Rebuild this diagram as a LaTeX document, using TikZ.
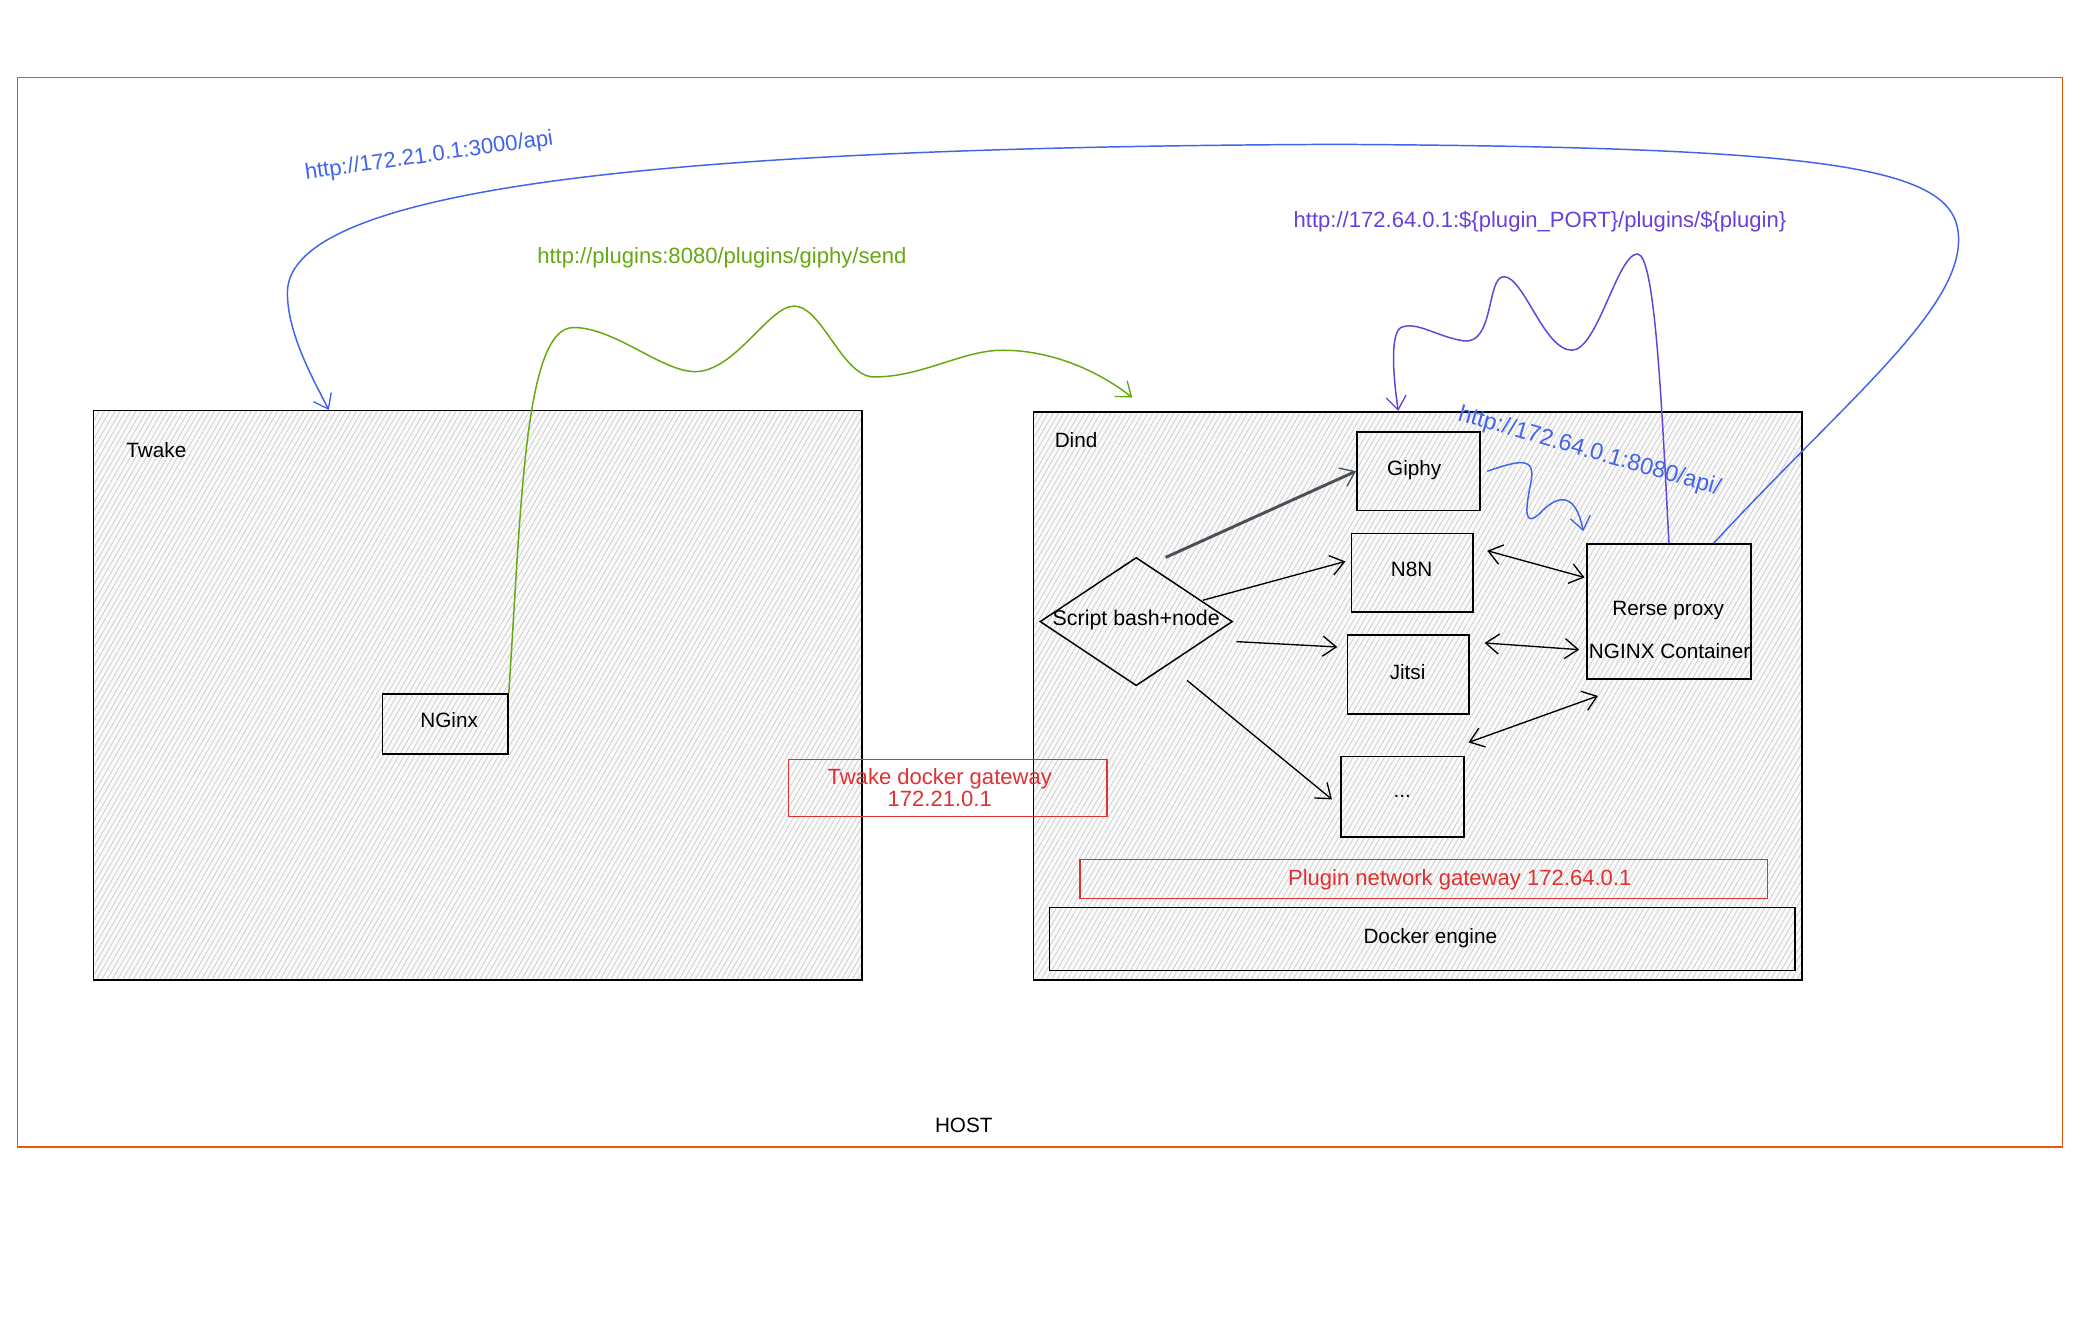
\documentclass[tikz,border=0pt]{standalone}
\usepackage{fontspec}
\setmainfont{Liberation Sans}
\usetikzlibrary{arrows.meta,shapes.geometric,patterns.meta,calc}
\definecolor{hostc}{HTML}{E8590C}
\definecolor{bluec}{HTML}{4263EB}
\definecolor{violetc}{HTML}{6741D9}
\definecolor{greenc}{HTML}{66A80F}
\definecolor{redc}{HTML}{E03131}
\definecolor{thickc}{HTML}{495057}
\begin{document}
\begin{tikzpicture}[x=1pt,y=-1pt,
  txt/.style={font=\fontsize{15.5}{17}\selectfont, inner sep=0pt},
  box/.style={draw=black, line width=1.2pt, rectangle, inner sep=0pt, txt},
  hatch/.style={preaction={fill=black!2}, pattern={Lines[angle=60,distance=3.4pt,line width=0.55pt]}, pattern color=black!20},
  redbox/.style={draw=redc, line width=1pt, rectangle, inner sep=0pt},
  redtxt/.style={font=\fontsize{16.5}{16.5}\selectfont, inner sep=0pt, text=redc, align=center},
  tip/.tip={Straight Barb[length=10pt,width=15pt,line width=1pt]},
  arr/.style={-tip, line width=1pt},
  darr/.style={tip-tip, line width=1pt},
  link/.style={line width=1.1pt, -tip},
  url/.style={font=\fontsize{16.5}{18}\selectfont, inner sep=0pt}
]
\useasboundingbox (0,0) rectangle (1568,987);
\fill[white] (0,0) rectangle (1568,987);

% host
\node[draw=hostc, line width=1pt, rectangle, inner sep=0pt, minimum width=1530pt, minimum height=800pt] (host) at (778,458) {};
\node[txt] (hostlbl) at (721,842) {HOST};

% main containers
\node[box, hatch, minimum width=575pt, minimum height=426pt] (twake) at (357.5,520) {};
\node[txt] (twakelbl) at (117,337) {Twake};
\node[box, hatch, minimum width=575pt, minimum height=425pt] (dind) at (1060.5,520.5) {};
\node[txt] (dindlbl) at (805,329) {Dind};

% inner boxes
\node[box, minimum width=94pt, minimum height=45pt] (nginx) at (333,541.5) {};
\node[txt] (nginxtxt) at (336,539) {NGinx};
\node[box, minimum width=92pt, minimum height=59pt] (giphy) at (1061,352.5) {};
\node[txt] (giphytxt) at (1058,352) {Giphy};
\node[box, minimum width=91pt, minimum height=59pt] (n8n) at (1056.5,428.5) {};
\node[txt] (n8ntxt) at (1056,426) {N8N};
\node[box, minimum width=91pt, minimum height=59pt] (jitsi) at (1053.5,504.5) {};
\node[txt] (jitsitxt) at (1053,503) {Jitsi};
\node[box, minimum width=92pt, minimum height=60pt] (dots) at (1049,596) {...};
\node[box, minimum width=123pt, minimum height=101pt] (proxy) at (1248.5,457.5) {};
\node[txt] (proxyl1) at (1248,457) {Rerse proxy};
\node[txt] (proxyl2) at (1249,487) {NGINX Container};
\node[diamond, draw=black, line width=1.1pt, minimum width=144pt, minimum height=96pt, inner sep=0pt] (script) at (850,465) {};
\node[font=\fontsize{16}{17}\selectfont, inner sep=0pt] (scripttxt) at (850,464) {Script bash+node};
\node[box, minimum width=558pt, minimum height=47pt] (docker) at (1064,702.5) {};
\node[txt] (dockertxt) at (1070,702) {Docker engine};

% red gateways
\node[redbox, minimum width=238pt, minimum height=43pt] (twgw) at (709,589.5) {};
\node[redtxt] (twgwtxt) at (703,589) {Twake docker gateway\\172.21.0.1};
\node[redbox, minimum width=514pt, minimum height=29pt] (plgw) at (1065,657.5) {};
\node[redtxt] (plgwtxt) at (1092,658) {Plugin network gateway 172.64.0.1};

% script arrows
\draw[arr, draw=thickc, line width=2.2pt] ([xshift=22pt,yshift=48pt]script.center) -- (giphy.west);
\draw[arr] ([xshift=50pt,yshift=16pt]script.center) -- ([xshift=-4pt,yshift=8.5pt]n8n.west);
\draw[arr] ([xshift=75pt,yshift=-15pt]script.center) -- ([xshift=-7pt,yshift=20.5pt]jitsi.west);
\draw[arr] ([xshift=38pt,yshift=-44pt]script.center) -- ([xshift=-6pt,yshift=-2pt]dots.west);

% double arrows to proxy
\draw[darr] ([xshift=10pt,yshift=16.5pt]n8n.east) -- ([xshift=-1pt,yshift=25.5pt]proxy.west);
\draw[darr] ([xshift=11pt,yshift=23.5pt]jitsi.east) -- ([xshift=-5pt,yshift=-28.5pt]proxy.west);
\draw[darr] ([xshift=3pt,yshift=10pt]dots.north east) -- ([xshift=9pt,yshift=-12pt]proxy.south west);

% big blue link: proxy -> twake
\draw[link, draw=bluec] ([xshift=33.5pt]proxy.north)
  .. controls (1380,300) and (1470,230) .. (1465,175)
  .. controls (1461,125) and (1370,110) .. (1000,108)
  .. controls (500,110) and (215,140) .. (215,219)
  .. controls (215,250) and (235,285) .. ([xshift=-111.5pt]twake.north);
\node[url, text=bluec, rotate=8] (url1) at (321,117) {http://172.21.0.1:3000/api};

% violet link: proxy -> dind/giphy
\draw[link, draw=violetc] (proxy.north)
  .. controls (1243,300) and (1238,190) .. (1225,190)
  .. controls (1210,190) and (1195,262) .. (1176,262)
  .. controls (1155,262) and (1140,207) .. (1125,207)
  .. controls (1112,207) and (1118,258) .. (1095,255)
  .. controls (1075,252) and (1060,240) .. (1048,245)
  .. controls (1040,250) and (1042,280) .. ([xshift=-14.5pt]dind.north);
\node[url, text=violetc] (url2) at (1152,166) {http://172.64.0.1:\$\{plugin\_PORT\}/plugins/\$\{plugin\}};

% small blue link: giphy -> proxy
\draw[link, draw=bluec] ([xshift=5pt]giphy.east)
  .. controls (1135,345) and (1150,340) .. (1145,362)
  .. controls (1141,382) and (1140,395) .. (1152,384)
  .. controls (1163,372) and (1178,365) .. ([xshift=-2pt,yshift=9pt]proxy.north west);
\node[url, text=bluec, rotate=-16, font=\fontsize{17.5}{18}\selectfont] (url3) at (1189,338) {http://172.64.0.1:8080/api/};

% green link: nginx -> dind
\draw[link, draw=greenc] (nginx.north east)
  .. controls (390,380) and (392,245) .. (429,245)
  .. controls (460,245) and (495,278) .. (520,278)
  .. controls (550,278) and (575,229) .. (594,229)
  .. controls (615,229) and (630,282) .. (654,282)
  .. controls (690,282) and (720,262) .. (750,262)
  .. controls (790,262) and (825,280) .. ([xshift=-213.5pt,yshift=10pt]dind.north);
\node[url, text=greenc] (url4) at (540,193) {http://plugins:8080/plugins/giphy/send};
\end{tikzpicture}
\end{document}
